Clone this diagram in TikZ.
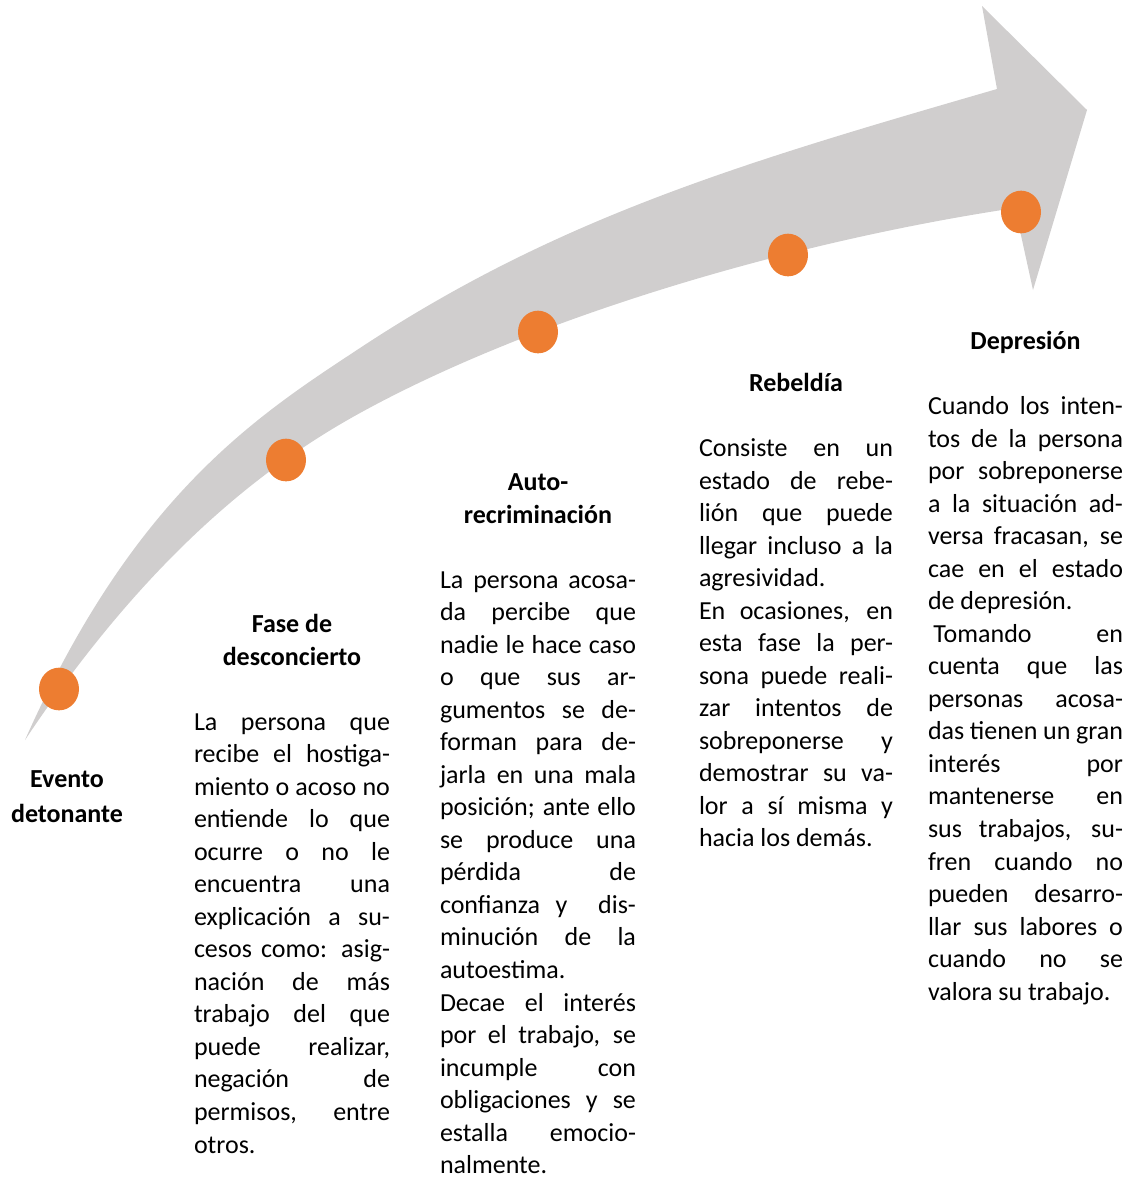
\documentclass[tikz,border=0pt]{standalone}
\usepackage{fontspec}
\setmainfont{Carlito}
\usetikzlibrary{shapes.geometric}
\definecolor{arrowgray}{HTML}{D0CECE}
\definecolor{dotorange}{HTML}{ED7D31}
\newdimen\cw
\newcommand\jline[1]{\hbox to\cw{#1}}
\newcommand\lline[1]{\hbox{#1}}
\newcommand\tline[1]{\hbox to\cw{\hfil\rule{0pt}{17pt}\bfseries #1\hfil}}
\newcommand\blankline{\hbox{}}
\begin{document}
\begin{tikzpicture}[x=0.75pt,y=-0.75pt,
  dot/.style={ellipse,fill=dotorange,draw=none,minimum width=30pt,minimum height=32pt,inner sep=0pt},
  coltext/.style={anchor=north west,inner sep=0pt,outer sep=0pt,
    font=\fontsize{19.5pt}{24.4pt}\selectfont},
  evtext/.style={anchor=north,inner sep=0pt,outer sep=0pt,
    font=\fontsize{19.5pt}{26.25pt}\selectfont}]
\useasboundingbox (0,0) rectangle (1128,1178);
% arrow
\fill[arrowgray] (25,740) .. controls (135,492.5) and (260,414) .. (360,348)
  .. controls (560,216) and (747,161.5) .. (997,89)
  -- (982,6) -- (1087,110) -- (1033,290) -- (1015,208)
  .. controls (785,242.5) and (530,319.5) .. (360,413)
  .. controls (260,468) and (145,560) .. (25,740) -- cycle;
% dots
\node[dot] (d1) at (59,689) {};
\node[dot] (d2) at (286,460) {};
\node[dot] (d3) at (538,332) {};
\node[dot] (d4) at (788,255) {};
\node[dot] (d5) at (1021,212) {};
% texts
\node[evtext] (t1) at (67,764.8) {\vbox{\cw=110pt \tline{Evento}\tline{detonante}}};
\node[coltext] (t2) at (194,609.8) {\vbox{\cw=147pt
\tline{Fase de}
\tline{desconcierto}
\blankline
\jline{La persona que}
\jline{recibe el hostiga-}
\jline{miento o acoso no}
\jline{entiende lo que}
\jline{ocurre o no le}
\jline{encuentra una}
\jline{explicación a su-}
\jline{cesos como: asig-}
\jline{nación de más}
\jline{trabajo del que}
\jline{puede realizar,}
\jline{negación de}
\jline{permisos, entre}
\lline{otros.}}};
\node[coltext] (t3) at (440,467.8) {\vbox{\cw=147pt
\tline{Auto-}
\tline{recriminación}
\blankline
\jline{La persona acosa-}
\jline{da percibe que}
\jline{nadie le hace caso}
\jline{o que sus ar-}
\jline{gumentos se de-}
\jline{forman para de-}
\jline{jarla en una mala}
\jline{posición; ante ello}
\jline{se produce una}
\jline{pérdida de}
\jline{confianza y \ dis-}
\jline{minución de la}
\lline{autoestima.}
\jline{Decae el interés}
\jline{por el trabajo, se}
\jline{incumple con}
\jline{obligaciones y se}
\jline{estalla emocio-}
\lline{nalmente.}}};
\node[coltext] (t4) at (699,368.8) {\vbox{\cw=145.5pt
\tline{Rebeldía}
\blankline
\jline{Consiste en un}
\jline{estado de rebe-}
\jline{lión que puede}
\jline{llegar incluso a la}
\lline{agresividad.}
\jline{En ocasiones, en}
\jline{esta fase la per-}
\jline{sona puede reali-}
\jline{zar intentos de}
\jline{sobreponerse y}
\jline{demostrar su va-}
\jline{lor a sí misma y}
\lline{hacia los demás.}}};
\node[coltext] (t5) at (928,326.8) {\vbox{\cw=146.25pt
\tline{Depresión}
\blankline
\jline{Cuando los inten-}
\jline{tos de la persona}
\jline{por sobreponerse}
\jline{a la situación ad-}
\jline{versa fracasan, se}
\jline{cae en el estado}
\lline{de depresión.}
\jline{\kern4pt Tomando en}
\jline{cuenta que las}
\jline{personas acosa-}
\jline{das tienen un gran}
\jline{interés por}
\jline{mantenerse en}
\jline{sus trabajos, su-}
\jline{fren cuando no}
\jline{pueden desarro-}
\jline{llar sus labores o}
\jline{cuando no se}
\lline{valora su trabajo.}}};
\end{tikzpicture}
\end{document}
